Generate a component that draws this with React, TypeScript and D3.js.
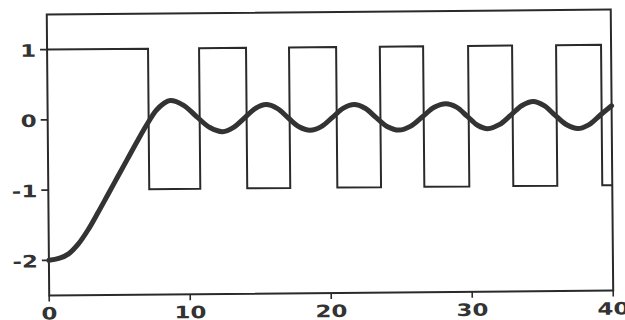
import React from 'react';
import * as d3 from 'd3';

const W = 625;
const H = 320;

const xTicks = [0, 10, 20, 30, 40];
const xTickLabels = ['0', '10', '20', '30', '40'];
const yTicks = [1, 0, -1, -2];
const yTickLabels = ['1', '0', '-1', '-2'];

// square wave: switching times and the level that starts at each time
const squareTimes = [0, 7.16, 10.78, 14.11, 17.16, 20.5, 23.6, 26.67, 29.86, 32.98, 36.1, 39.29, 40];
const squareLevels = [1, -1, 1, -1, 1, -1, 1, -1, 1, -1, 1, -1, -1];

// smooth response curve
const respX = [0, 0.7, 1.4, 2.1, 2.8, 3.5, 4.2, 4.9, 5.6, 6.3, 7.0, 7.7, 8.25, 8.7, 9.65, 10.6, 11.5, 12.4, 13.18, 13.95, 14.72, 15.5, 16.28, 17.05, 17.82, 18.6, 19.4, 20.2, 20.98, 21.75, 22.52, 23.3, 24.1, 24.9, 25.75, 26.6, 27.42, 28.25, 29.0, 29.75, 30.48, 31.2, 32.02, 32.85, 33.65, 34.45, 35.22, 36.0, 36.8, 37.6, 38.4, 39.2, 40];
const respY = [-2.0, -1.975, -1.91, -1.77, -1.57, -1.33, -1.08, -0.83, -0.58, -0.33, -0.09, 0.12, 0.22, 0.26, 0.19, 0.02, -0.13, -0.19, -0.13, 0.0, 0.135, 0.19, 0.135, 0.0, -0.13, -0.18, -0.13, 0.0, 0.13, 0.18, 0.125, -0.01, -0.14, -0.19, -0.135, 0.0, 0.13, 0.18, 0.13, 0.0, -0.13, -0.18, -0.125, 0.01, 0.145, 0.2, 0.14, 0.0, -0.135, -0.19, -0.135, 0.0, 0.13];

const FONT = '"DejaVu Sans", Verdana, sans-serif';

export default function App() {
  const x = d3.scaleLinear().domain([0, 40]).range([48, 612]);
  const y = d3.scaleLinear().domain([-2.5, 1.5]).range([293, 12]);

  const sq: [number, number][] = squareTimes.map((t, i) => [t, squareLevels[i]]);
  const stepLine = d3
    .line<[number, number]>()
    .x((d) => x(d[0]))
    .y((d) => y(d[1]))
    .curve(d3.curveStepAfter);

  const resp: [number, number][] = respX.map((t, i) => [t, respY[i]]);
  const smoothLine = d3
    .line<[number, number]>()
    .x((d) => x(d[0]))
    .y((d) => y(d[1]))
    .curve(d3.curveCatmullRom.alpha(0.5));

  const ink = '#2a2a2a';
  const sx = 1.35;

  return (
    <svg
      width={W}
      height={H}
      style={{ position: 'absolute', left: 0, top: 0, background: '#fff' }}
    >
      <rect x={0} y={0} width={W} height={H} fill="#fff" />
      <g transform="rotate(-0.5, 330, 155)">
        {/* frame */}
        <rect
          x={x(0)}
          y={y(1.5)}
          width={x(40) - x(0)}
          height={y(-2.5) - y(1.5)}
          fill="none"
          stroke={ink}
          strokeWidth={2}
        />
        {/* y ticks */}
        {yTicks.map((v, i) => (
          <g key={'yt' + i}>
            <line x1={x(0) - 7} x2={x(0)} y1={y(v)} y2={y(v)} stroke={ink} strokeWidth={1.6} />
            <g transform={`translate(${x(0) - 11}, ${y(v) + 7}) scale(${sx},1)`}>
              <text
                x={0}
                y={0}
                textAnchor="end"
                fontFamily={FONT}
                fontWeight="bold"
                fontSize={17}
                fill="#333"
              >
                {yTickLabels[i]}
              </text>
            </g>
          </g>
        ))}
        {/* x ticks */}
        {xTicks.map((v, i) => (
          <g key={'xt' + i}>
            <line x1={x(v)} x2={x(v)} y1={y(-2.5)} y2={y(-2.5) + 6} stroke={ink} strokeWidth={1.6} />
            <g transform={`translate(${x(v)}, 317) scale(${sx},1)`}>
              <text
                x={0}
                y={0}
                textAnchor="middle"
                fontFamily={FONT}
                fontWeight="bold"
                fontSize={17}
                fill="#333"
              >
                {xTickLabels[i]}
              </text>
            </g>
          </g>
        ))}
        {/* square wave */}
        <path d={stepLine(sq) || ''} fill="none" stroke={ink} strokeWidth={2} strokeLinejoin="miter" />
        {/* response */}
        <path
          d={smoothLine(resp) || ''}
          fill="none"
          stroke="#333"
          strokeWidth={5}
          strokeLinecap="round"
          strokeLinejoin="round"
        />
      </g>
    </svg>
  );
}
